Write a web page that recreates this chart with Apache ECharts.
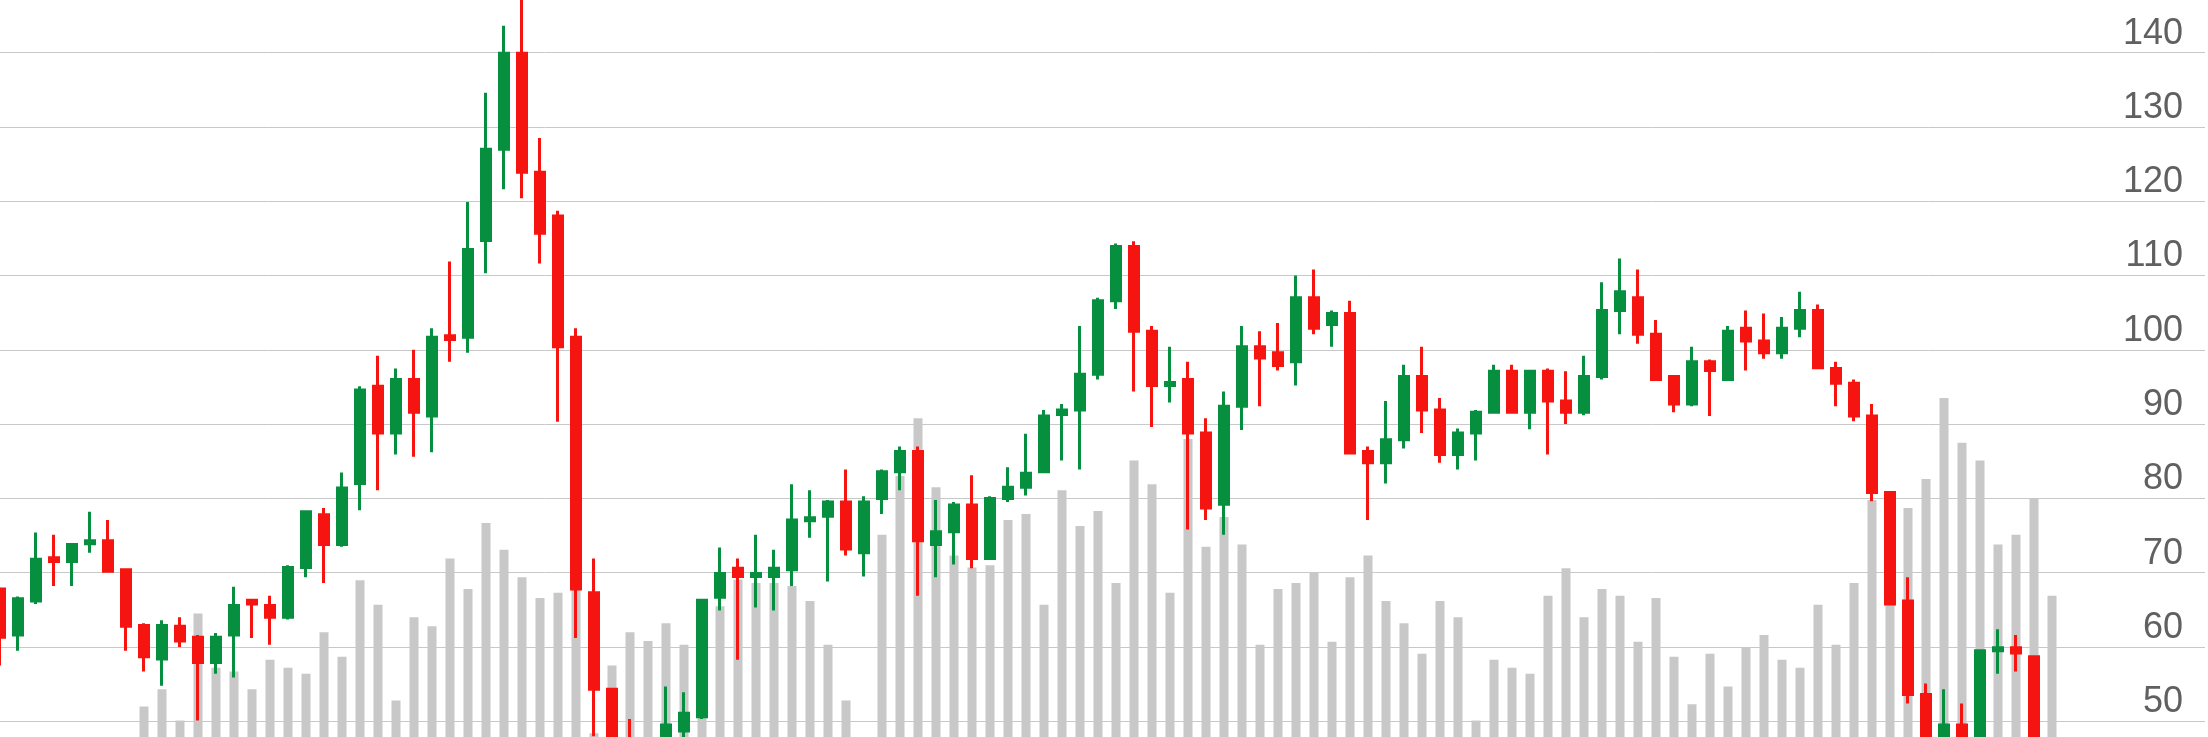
<!DOCTYPE html>
<html>
<head>
<meta charset="utf-8">
<script src="https://cdn.jsdelivr.net/npm/echarts@6/dist/echarts.min.js"></script>
<style>
  html, body { margin: 0; padding: 0; background: #ffffff; overflow: hidden; width: 2208px; height: 737px; }
  #chart { position: absolute; left: -20px; top: -30px; width: 2228px; height: 830px; }
</style>
</head>
<body>
<div id="chart"></div>
<script>
// Price axis tick values (labels shown on the right)
const priceTicks = [50, 60, 70, 80, 90, 100, 110, 120, 130, 140];

// OHLC per session
const opens = [67.8,61.6,66.2,72.0,71.5,73.9,74.3,70.4,62.9,58.4,62.8,61.3,57.9,61.6,66.3,65.6,
  64.0,70.7,77.8,73.8,82.0,95.1,88.8,96.0,91.1,101.9,101.7,114.7,127.0,139.9,123.9,
  118.0,101.7,67.3,54.3,47.0,45.0,45.0,48.7,50.6,66.7,70.6,69.5,69.5,70.4,77.0,77.6,
  79.5,72.7,80.0,83.6,86.3,73.8,75.5,79.1,71.9,80.0,81.5,83.6,91.3,91.9,96.7,
  106.6,113.9,102.5,95.2,96.0,88.8,79.2,92.4,100.4,99.6,98.4,107.0,103.4,104.9,86.3,
  84.8,87.9,96.4,91.9,85.9,88.8,91.6,97.1,91.6,97.1,93.1,91.6,96.4,105.3,107.0,
  102.1,96.4,92.7,98.4,96.0,102.9,101.2,99.6,102.9,105.3,97.5,95.5,91.1,80.8,66.2,53.6,
  46.0,49.5,46.0,59.5,59.9,58.7,45.0];
const closes = [61.3,66.5,71.8,71.5,73.8,74.3,70.2,62.8,58.7,62.9,60.8,57.9,61.3,65.6,65.8,64.0,
  70.7,78.2,73.8,81.4,94.6,88.8,96.0,91.6,101.7,101.4,113.5,127.0,139.9,123.9,115.7,
  100.4,67.8,54.3,46.0,45.0,44.0,49.5,51.1,66.3,69.9,69.5,69.9,70.6,77.1,77.4,79.5,
  73.2,79.5,83.6,86.3,74.3,75.5,79.1,71.9,80.0,81.5,83.4,91.1,91.9,96.7,106.6,
  113.9,102.5,95.2,95.6,88.8,78.7,92.4,100.4,98.9,97.9,107.0,102.9,104.9,86.1,84.8,
  87.9,96.4,91.9,85.9,88.8,91.6,97.1,91.6,97.1,93.1,91.6,96.4,105.3,107.8,102.1,
  96.0,92.7,98.4,97.2,102.5,101.2,99.6,102.9,105.3,97.6,95.5,91.1,80.8,65.8,53.6,46.0,
  49.5,46.0,59.5,59.9,59.2,46.0,44.0];
const lows = [57.5,59.5,65.8,68.2,68.2,72.7,70.0,59.5,56.7,54.8,60.0,50.1,56.4,55.9,61.2,60.3,
  63.7,69.4,68.6,73.5,78.4,81.1,85.9,85.6,86.2,98.4,99.6,110.3,121.6,120.4,111.6,
  90.3,61.2,48.0,44.0,43.0,42.0,43.0,47.0,50.3,64.9,58.3,65.3,64.9,68.2,74.7,68.8,
  72.3,69.5,77.9,81.1,66.9,69.4,71.1,70.6,71.9,79.5,80.4,83.6,85.1,83.9,96.0,
  105.5,94.4,89.6,92.9,75.8,77.1,75.1,89.2,92.4,97.2,95.2,102.1,100.4,85.9,77.1,
  82.0,86.7,88.8,84.8,83.9,85.1,91.6,91.6,89.3,85.9,90.0,91.2,96.0,102.1,100.8,
  95.8,91.6,92.4,91.1,96.0,97.2,98.8,98.8,101.7,97.6,92.4,90.4,79.6,65.6,52.4,44.0,
  44.0,44.0,45.0,56.4,56.7,44.0,43.0];
const highs = [68.0,66.8,75.4,75.1,73.9,78.2,77.1,70.6,63.2,63.6,64.0,61.6,61.9,68.1,66.5,66.9,
  71.0,78.3,78.7,83.5,95.1,99.2,97.5,100.0,102.9,111.9,119.9,134.6,143.6,149.0,128.5,
  118.7,102.9,71.9,54.4,50.3,46.5,54.7,53.9,66.5,73.4,71.9,75.1,73.1,81.9,81.1,79.8,
  83.9,80.3,83.9,87.0,87.0,79.8,79.5,83.1,80.3,84.2,88.7,91.9,92.7,103.2,107.0,
  114.3,114.6,103.2,100.4,98.4,90.8,94.4,103.2,102.5,103.6,110.0,110.8,105.3,106.6,87.0,
  93.1,98.0,100.4,93.5,89.4,91.9,98.0,98.0,97.1,97.5,97.1,99.2,109.1,112.3,110.8,
  104.0,96.4,100.4,98.7,103.2,105.3,104.9,104.4,107.8,106.1,98.4,96.0,92.7,80.8,69.4,55.1,
  54.3,52.4,59.5,62.4,61.6,58.7,46.0];

// Volume per session (own hidden scale, 0..110)
const volumes = [5,4,6,5,4,6,5,6,12.0,14.3,10.1,24.5,17.2,16.7,14.3,18.3,
  17.2,16.4,22.0,18.7,29.0,25.7,12.8,24.0,22.8,31.9,27.8,36.7,33.1,29.4,26.6,
  27.3,32,8.4,17.5,22.0,20.8,23.2,20.3,10.6,25.5,29.1,28.6,28.6,28.2,26.2,20.3,
  12.8,6,35.1,43,50.8,41.5,32.3,30.7,31,37.1,37.9,25.7,41.1,36.3,38.3,
  28.6,45.1,41.9,27.3,48,33.5,37.5,33.8,20.3,27.8,28.6,30.0,20.7,29.4,32.3,
  26.2,23.2,19.1,26.2,24.0,10.1,18.3,17.2,16.4,26.9,30.6,24.0,27.8,26.9,20.7,
  26.6,18.7,12.3,19.1,14.7,20.0,21.6,18.3,17.2,25.7,20.3,28.6,39.8,35,38.7,42.6,
  53.5,47.5,45.1,33.8,35.1,40.0,26.9];

// Session slots on the x axis (the last ones are still empty)
const slotCount = 123;
const categories = [];
for (let i = 0; i < slotCount; i++) categories.push('S' + (i + 1));

const ohlc = opens.map((o, i) => [o, closes[i], lows[i], highs[i]]);

const UP = '#078f40';
const DOWN = '#f5140f';

const chart = echarts.init(document.getElementById('chart'), null, { renderer: 'canvas' });
chart.setOption({
  animation: false,
  backgroundColor: '#ffffff',
  grid: { left: 11, right: 3, top: 8.3, bottom: 4.4, containLabel: false },
  xAxis: {
    type: 'category',
    data: categories,
    boundaryGap: true,
    axisLine: { show: false },
    axisTick: { show: false },
    axisLabel: { show: false },
    splitLine: { show: false }
  },
  yAxis: [
    {
      type: 'value',
      position: 'right',
      min: 40,
      max: 150,
      interval: 10,
      axisLine: { show: false },
      axisTick: { show: false },
      splitLine: { show: true, lineStyle: { color: '#c8c8c8', width: 1 } },
      axisLabel: {
        inside: true,
        margin: 22,
        color: '#606060',
        fontSize: 36,
        fontFamily: 'Liberation Sans, Arial, sans-serif',
        verticalAlign: 'bottom',
        padding: [0, 0, 1, 0],
        formatter: v => (priceTicks.indexOf(v) >= 0 ? String(v) : '')
      }
    },
    {
      type: 'value',
      min: 0,
      max: 110,
      show: false,
      splitLine: { show: false }
    }
  ],
  series: [
    {
      name: 'Volume',
      type: 'bar',
      yAxisIndex: 1,
      data: volumes,
      barWidth: 9,
      itemStyle: { color: '#c8c8c8' },
      z: 1
    },
    {
      name: 'Price',
      type: 'candlestick',
      data: ohlc,
      barWidth: 9,
      itemStyle: {
        color: UP,
        color0: DOWN,
        borderColor: UP,
        borderColor0: DOWN,
        borderWidth: 3
      },
      z: 3
    }
  ]
});
</script>
</body>
</html>
